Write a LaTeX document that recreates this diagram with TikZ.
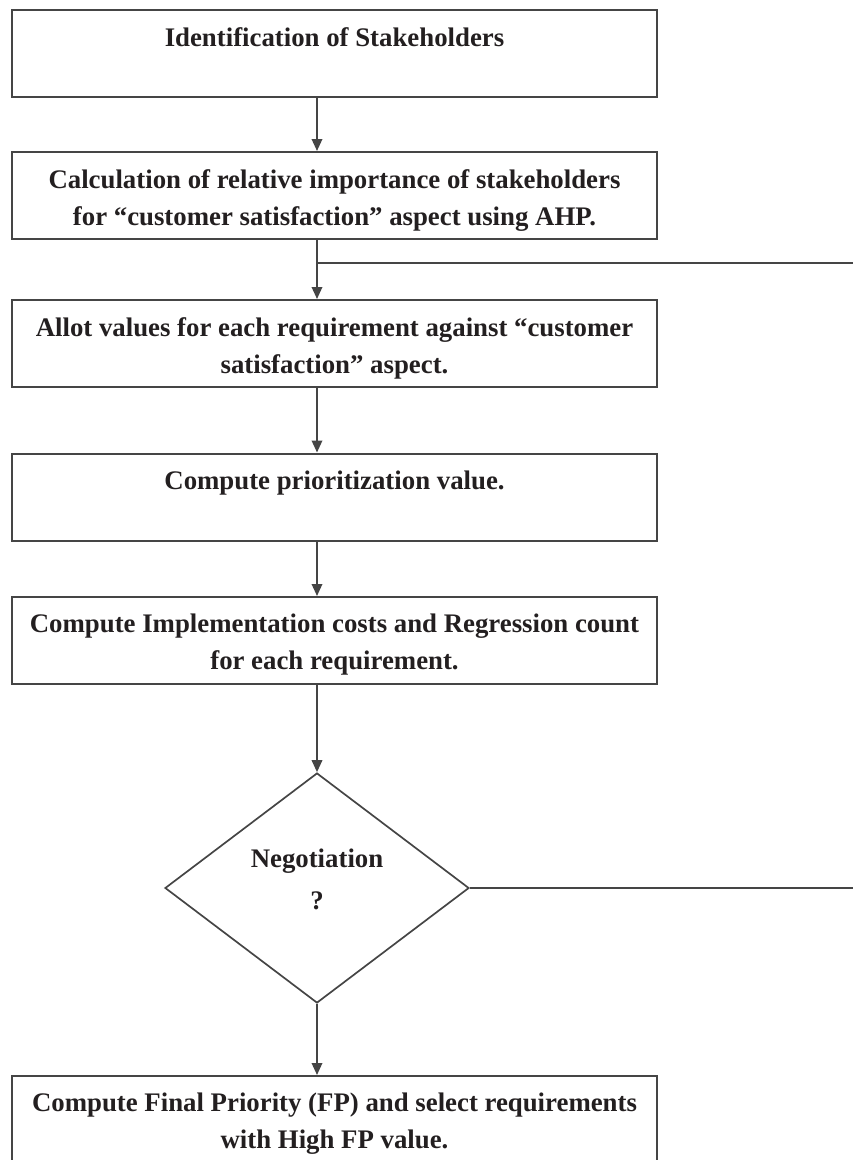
\documentclass[tikz,border=0pt]{standalone}
\usepackage{fontspec}
\setmainfont{Liberation Serif}
\usetikzlibrary{shapes.geometric,arrows.meta}
\definecolor{ink}{HTML}{231F20}
\definecolor{rule}{HTML}{454545}
\tikzset{
  stepbox/.style={draw=rule, line width=2pt, rectangle, minimum width=645pt, minimum height=87pt, inner sep=0pt},
  decbox/.style={draw=rule, line width=1.7pt, diamond, minimum width=304pt, minimum height=230pt, inner sep=0pt},
  steptext/.style={anchor=north, inner sep=0pt, align=center, text=ink,
    font=\fontsize{26.8pt}{37pt}\selectfont\bfseries},
  flow/.style={draw=rule, line width=1.8pt, -{Triangle[length=12pt,width=10.5pt]}},
  plain/.style={draw=rule, line width=1.8pt},
}
\begin{document}
\begin{tikzpicture}[x=1pt,y=-1pt]
\useasboundingbox (0,0) rectangle (853,1160);
% step boxes
\node[stepbox] (b1) at (334.5,53.5) {};
\node[stepbox] (b2) at (334.5,195.5) {};
\node[stepbox] (b3) at (334.5,343.5) {};
\node[stepbox] (b4) at (334.5,497) {};
\node[stepbox] (b5) at (334.5,640.5) {};
\node[decbox] (d) at (317,888) {};
\node[stepbox] (b6) at (334.5,1119.5) {};
% box texts, set from the top of each box
\node[steptext] (t1) at ([yshift=-18pt]b1.north) {Identification of Stakeholders};
\node[steptext] (t2) at ([yshift=-18pt]b2.north) {Calculation of relative importance of stakeholders\\for ``customer satisfaction'' aspect using AHP.};
\node[steptext] (t3) at ([yshift=-18pt]b3.north) {Allot values for each requirement against ``customer\\satisfaction'' aspect.};
\node[steptext] (t4) at ([yshift=-18pt]b4.north) {Compute prioritization value.};
\node[steptext] (t5) at ([yshift=-18pt]b5.north) {Compute Implementation costs and Regression count\\for each requirement.};
\node[steptext, font=\fontsize{26.8pt}{42pt}\selectfont\bfseries] (td) at (317,849) {Negotiation\\?};
\node[steptext] (t6) at ([yshift=-18pt]b6.north) {Compute Final Priority (FP) and select requirements\\with High FP value.};
% side branches running off to the right
\coordinate (j1) at (317,263);
\coordinate (e1) at (853,263);
\coordinate (e2) at (853,888);
% connectors down the main column
\draw[flow] (b1.south -| d.north) -- (b2.north -| d.north);
\draw[flow] (b2.south -| d.north) -- (b3.north -| d.north);
\draw[flow] (b3.south -| d.north) -- (b4.north -| d.north);
\draw[flow] (b4.south -| d.north) -- (b5.north -| d.north);
\draw[flow] (b5.south -| d.north) -- (d.north);
\draw[flow] (d.south) -- (b6.north -| d.south);
\draw[plain] (j1) -- (e1);
\draw[plain] (d.east) -- (e2);
\end{tikzpicture}
\end{document}
